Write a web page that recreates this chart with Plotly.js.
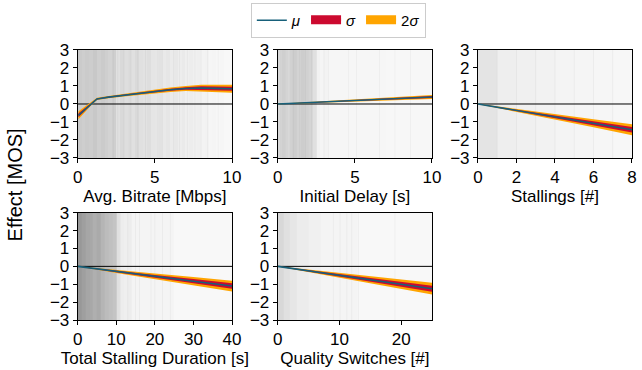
<!DOCTYPE html>
<html><head><meta charset="utf-8">
<script src="https://cdn.plot.ly/plotly-3.0.1.min.js"></script>
<style>html,body{margin:0;padding:0;background:#fff}#plot{width:642px;height:370px}</style>
</head><body><div id="plot"></div>
<script>
// ---------- data ----------
// Avg. Bitrate [Mbps]
const brX = [0.05, 0.3, 0.6, 0.9, 1.25, 2, 3, 4, 5, 6, 7, 7.5, 8, 9, 10];
const brMu = [-0.63, -0.43, -0.2, 0.03, 0.28, 0.38, 0.49, 0.6, 0.7, 0.79, 0.86, 0.89, 0.89, 0.87, 0.85];
const brSigma = [0.11, 0.09, 0.06, 0.04, 0.03, 0.03, 0.035, 0.045, 0.05, 0.06, 0.07, 0.08, 0.09, 0.1, 0.11];
const brBins = [0,0.25,0.5,0.75,1,1.25,1.5,1.75,2,2.25,2.5,2.75,3,3.25,3.5,3.75,4,4.25,4.5,4.75,5,5.25,5.5,5.75,6,6.25,6.5,6.75,7,7.25,7.5,7.75,8,8.25,8.5,8.75,9,9.25,9.5,9.75,10];
const brDensity = [0.42,0.39,0.42,0.40,0.44,0.38,0.42,0.38,0.34,0.38,0.22,0.29,0.24,0.26,0.22,0.28,0.22,0.20,0.24,0.18,0.17,0.20,0.14,0.17,0.12,0.15,0.10,0.13,0.08,0.10,0.07,0.08,0.05,0.06,0.02,0.03,0.01,0.02,0.00,0.00];
const brRug = [2.3, 2.6, 3.0, 3.4, 3.9, 4.4, 5.2, 5.5, 6.2, 6.6, 7.1, 7.6, 8.0, 8.4, 9.1];

// Initial Delay [s]
const idX = [0, 2, 4, 6, 8, 10];
const idMu = [0, 0.07, 0.15, 0.23, 0.31, 0.39];
const idSigma = [0.005, 0.015, 0.025, 0.035, 0.045, 0.055];
const idBins = [0,0.25,0.5,0.75,1,1.25,1.5,1.75,2,2.25,2.5,2.75,3,3.25,3.5,4,5,6,7,8,9,10];
const idDensity = [0.30,0.38,0.30,0.36,0.40,0.34,0.40,0.36,0.32,0.22,0.06,0.03,0.05,0.02,0.02,0.02,0.02,0.02,0.01,0.01,0.01];
const idRug = [0.2, 0.6, 1.0, 1.4, 1.8, 2.2, 3.0, 3.3, 4.6, 5.1, 6.6, 7.6, 8.6];

// Stallings [#]
const stX = [0, 2, 4, 6, 8];
const stMu = [0, -0.36, -0.71, -1.07, -1.43];
const stSigma = [0.005, 0.035, 0.07, 0.11, 0.15];
const stBins = [0,1,2,3,4,5,6,7,8];
const stDensity = [0.185, 0.09, 0.075, 0.055, 0.04, 0.03, 0.02, 0.01];
const stRug = [1, 2, 3, 4, 5, 6, 7];

// Total Stalling Duration [s]
const tsX = [0, 10, 20, 30, 40];
const tsMu = [0, -0.29, -0.56, -0.83, -1.1];
const tsSigma = [0.005, 0.04, 0.08, 0.12, 0.15];
const tsBins = [0,1,2,3,4,5,6,7,8,9,10,11,12,13,14,25,40];
const tsDensity = [0.89,0.82,0.76,0.74,0.68,0.72,0.62,0.56,0.52,0.48,0.22,0.10,0.08,0.10,0.04,0.0];
const tsRug = [11, 13, 15, 16, 19, 20, 22, 24];

// Quality Switches [#]
const qsX = [0, 5, 10, 15, 20, 25];
const qsMu = [0, -0.25, -0.5, -0.75, -1.0, -1.25];
const qsSigma = [0.005, 0.035, 0.07, 0.1, 0.13, 0.165];
const qsBins = [0,1,2,3,5,7,13,25];
const qsDensity = [0.30,0.22,0.17,0.11,0.07,0.04,0.0];
const qsRug = [9, 10.1, 11.2, 12, 13.1, 19];

const xTitles = ['Avg. Bitrate [Mbps]', 'Initial Delay [s]', 'Stallings [#]', 'Total Stalling Duration [s]', 'Quality Switches [#]'];
const xRanges = [[0, 10], [0, 10], [0, 8], [0, 40], [0, 25]];
const xTicks = [[0, 5, 10], [0, 5, 10], [0, 2, 4, 6, 8], [0, 10, 20, 30, 40], [0, 10, 20]];
const yTicks = [-3, -2, -1, 0, 1, 2, 3];
const legendNames = ['<i>\u03bc</i>', '<i>\u03c3</i>', '2<i>\u03c3</i>'];

// ---------- build ----------
const panels = [
  {x: brX, mu: brMu, s: brSigma, bins: brBins, dens: brDensity, rug: brRug, rw: 0.05},
  {x: idX, mu: idMu, s: idSigma, bins: idBins, dens: idDensity, rug: idRug, rw: 0.05},
  {x: stX, mu: stMu, s: stSigma, bins: stBins, dens: stDensity, rug: stRug, rw: 0.05},
  {x: tsX, mu: tsMu, s: tsSigma, bins: tsBins, dens: tsDensity, rug: tsRug, rw: 0.22},
  {x: qsX, mu: qsMu, s: qsSigma, bins: qsBins, dens: qsDensity, rug: qsRug, rw: 0.14}
];
const LINE = '#17607a', RED = '#cc0a2f', ORANGE = '#ffa500';
const FONT = 'Liberation Sans, Arial, sans-serif';
const FS = 17;
const traces = [];
function band(p, k) {
  const up = p.x.map((_, i) => p.mu[i] + k * p.s[i]);
  const lo = p.x.map((_, i) => p.mu[i] - k * p.s[i]);
  return {x: p.x.concat(p.x.slice().reverse()), y: up.concat(lo.reverse())};
}
panels.forEach((p, i) => {
  const ax = i === 0 ? '' : String(i + 1);
  const xa = 'x' + ax, ya = 'y' + ax;
  traces.push({type: 'heatmap', x: p.bins, y: [-3, 3], z: [p.dens, p.dens], zmin: 0, zmax: 1,
    colorscale: [[0, '#f8f8f8'], [1, '#8c8c8c']], showscale: false, hoverinfo: 'skip',
    xaxis: xa, yaxis: ya, showlegend: false});
  traces.push({type: 'bar', x: p.rug, y: p.rug.map(() => 6), base: -3, width: p.rug.map(() => p.rw),
    marker: {color: 'rgba(0,0,0,0.045)', line: {width: 0}}, hoverinfo: 'skip',
    xaxis: xa, yaxis: ya, showlegend: false});
  traces.push({type: 'scatter', mode: 'lines', x: xRanges[i], y: [0, 0], line: {color: '#000', width: 1},
    xaxis: xa, yaxis: ya, showlegend: false, hoverinfo: 'skip'});
  const b2 = band(p, 2), b1 = band(p, 1);
  traces.push({type: 'scatter', mode: 'lines', x: b2.x, y: b2.y, fill: 'toself', fillcolor: ORANGE,
    line: {width: 0, color: ORANGE}, showlegend: false, xaxis: xa, yaxis: ya, hoverinfo: 'skip'});
  traces.push({type: 'scatter', mode: 'lines', x: b1.x, y: b1.y, fill: 'toself', fillcolor: RED,
    line: {width: 0, color: RED}, showlegend: false, xaxis: xa, yaxis: ya, hoverinfo: 'skip'});
  traces.push({type: 'scatter', mode: 'lines', x: p.x, y: p.mu, line: {color: LINE, width: 1.6},
    showlegend: false, xaxis: xa, yaxis: ya, hoverinfo: 'skip'});
});
// legend entries
traces.push({type: 'scatter', mode: 'lines', x: [null], y: [null], line: {color: LINE, width: 1.6},
  name: legendNames[0], showlegend: true, hoverinfo: 'skip'});
traces.push({type: 'scatter', mode: 'lines', x: [null], y: [null], fill: 'toself', fillcolor: RED,
  line: {color: RED, width: 6}, name: legendNames[1], showlegend: true, hoverinfo: 'skip'});
traces.push({type: 'scatter', mode: 'lines', x: [null], y: [null], fill: 'toself', fillcolor: ORANGE,
  line: {color: ORANGE, width: 6}, name: legendNames[2], showlegend: true, hoverinfo: 'skip'});

const colDom = [[0.121, 0.3614], [0.4326, 0.6729], [0.7445, 0.9844]];
const rowDom = [[0.573, 0.8649], [0.1351, 0.4251]];
const layout = {
  width: 642, height: 370, margin: {l: 0, r: 0, t: 0, b: 0},
  paper_bgcolor: '#fff', plot_bgcolor: '#f8f8f8',
  font: {family: FONT, size: FS, color: '#000'},
  barmode: 'overlay', showlegend: true,
  legend: {orientation: 'h', x: 0.527, xanchor: 'center', y: 0.992, yanchor: 'top',
    bordercolor: '#cccccc', borderwidth: 1, bgcolor: '#fff', font: {size: 15, family: FONT},
    traceorder: 'normal', itemclick: false},
  annotations: [{text: 'Effect [MOS]', textangle: -90, xref: 'paper', yref: 'paper', x: 0.024, y: 0.5,
    xanchor: 'center', yanchor: 'middle', showarrow: false, font: {size: 20, family: FONT}}]
};
panels.forEach((p, i) => {
  const ax = i === 0 ? '' : String(i + 1);
  const r = i < 3 ? 0 : 1, c = i % 3;
  const common = {showline: true, mirror: true, linecolor: '#000', linewidth: 1, ticks: 'outside',
    ticklen: 4, tickwidth: 1, tickcolor: '#000', showgrid: false, zeroline: false, fixedrange: true,
    tickfont: {size: FS, family: FONT}};
  layout['xaxis' + ax] = Object.assign({}, common, {domain: colDom[c], anchor: 'y' + ax, range: xRanges[i],
    tickmode: 'array', tickvals: xTicks[i], title: {text: xTitles[i], standoff: 0, font: {size: FS, family: FONT}}});
  layout['yaxis' + ax] = Object.assign({}, common, {domain: rowDom[r], anchor: 'x' + ax, range: [-3, 3],
    tickmode: 'array', tickvals: yTicks});
});
Plotly.newPlot('plot', traces, layout, {displayModeBar: false, staticPlot: true});
</script></body></html>
